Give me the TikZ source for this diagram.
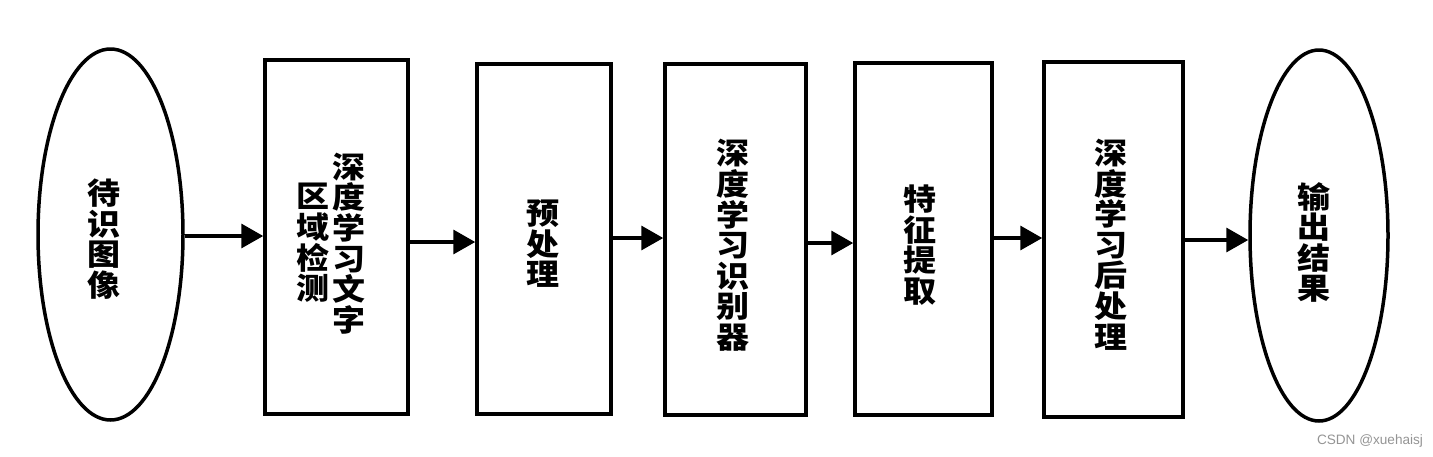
\documentclass[tikz,border=0pt]{standalone}
\usepackage{fontspec}
\newfontfamily\cjk{Noto Sans CJK SC Black}[FakeStretch=1.1]
\newfontfamily\wmfont{Liberation Sans}
\usetikzlibrary{shapes.geometric,arrows.meta}
\newcommand{\labfont}{\cjk\fontsize{30}{30.6}\selectfont\lineskiplimit=-100pt\relax\lineskip=0pt\relax}
\tikzset{
  box/.style={draw, line width=3.5pt, rectangle, inner sep=0pt},
  oval/.style={draw, line width=3.5pt, ellipse, inner sep=0pt},
  lab/.style={inner sep=0pt, align=center, font=\labfont},
  arr/.style={line width=3.5pt, -{Triangle[length=22pt,width=24pt]}},
  wm/.style={font=\wmfont\fontsize{13.6}{15}\selectfont, text=black!42}
}
\begin{document}
\begin{tikzpicture}[x=1pt,y=-1pt]
\useasboundingbox (0,0) rectangle (1433,456);
\node[oval, minimum width=145pt, minimum height=371pt] (E1) at (110.5,234.5) {};
\node[box, minimum width=143pt, minimum height=354pt] (B1) at (336.5,237) {};
\node[box, minimum width=134pt, minimum height=350pt] (B2) at (544,239) {};
\node[box, minimum width=141pt, minimum height=351pt] (B3) at (735.5,239.5) {};
\node[box, minimum width=137pt, minimum height=352pt] (B4) at (923.5,239) {};
\node[box, minimum width=139pt, minimum height=355pt] (B5) at (1113.5,239.5) {};
\node[oval, minimum width=138pt, minimum height=371pt] (E2) at (1319,235.5) {};
\node[lab] (T1) at (104,239) {待\\识\\图\\像};
\node[lab] (T2a) at (349,243.5) {深\\度\\学\\习\\文\\字};
\node[lab] (T2b) at (313,243) {区\\域\\检\\测};
\node[lab] (T3) at (543,244) {预\\处\\理};
\node[lab] (T4) at (733,245.5) {深\\度\\学\\习\\识\\别\\器};
\node[lab] (T5) at (920,245) {特\\征\\提\\取};
\node[lab] (T6) at (1111,244.5) {深\\度\\学\\习\\后\\处\\理};
\node[lab] (T7) at (1314,242.5) {输\\出\\结\\果};
\draw[arr] (E1.east |- 0,236) -- (B1.west |- 0,236);
\draw[arr] (B1.east |- 0,242) -- (B2.west |- 0,242);
\draw[arr] (B2.east |- 0,238) -- (B3.west |- 0,238);
\draw[arr] (B3.east |- 0,243) -- (B4.west |- 0,243);
\draw[arr] (B4.east |- 0,238) -- (B5.west |- 0,238);
\draw[arr] (B5.east |- 0,240) -- (E2.west |- 0,240);
\node[wm] (W) at (1370,441) {CSDN @xuehaisj};
\end{tikzpicture}
\end{document}
